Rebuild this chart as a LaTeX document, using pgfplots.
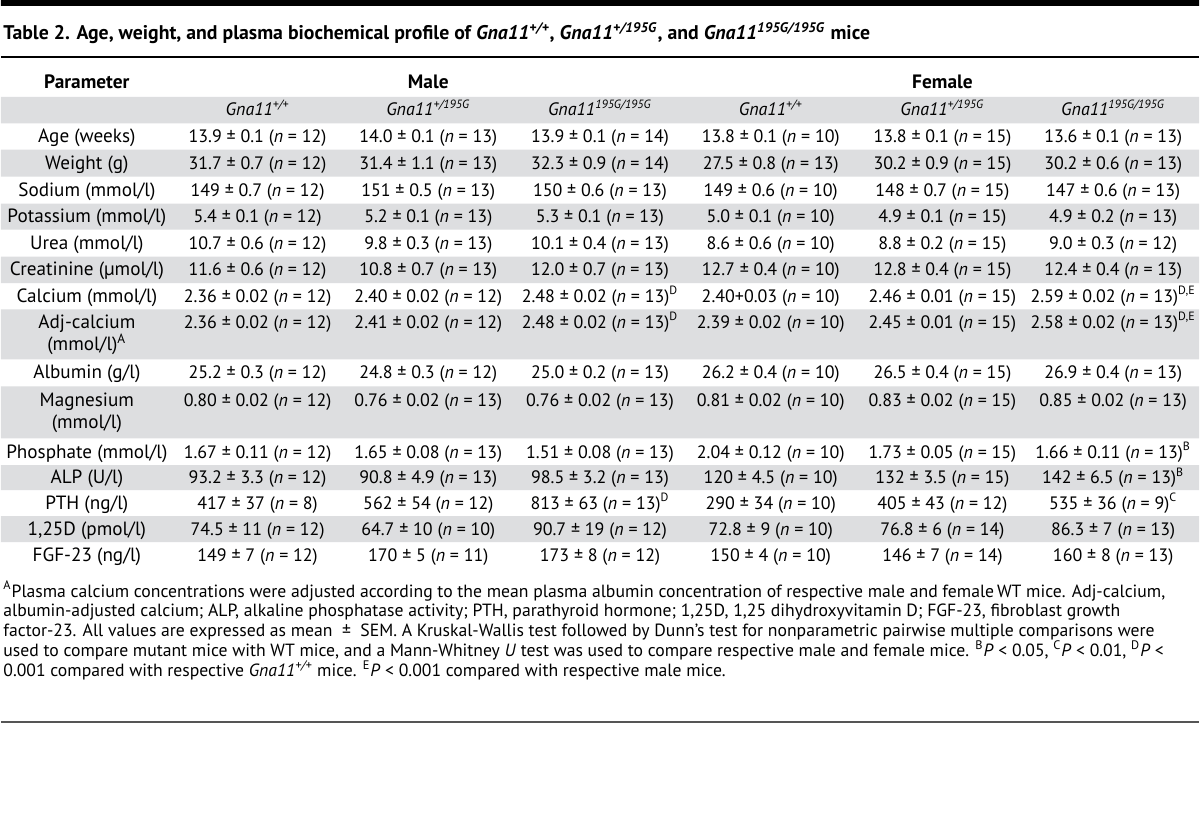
\documentclass[border=0pt]{standalone}
\usepackage{fontspec}
\setmainfont{PT Sans}
\usepackage{pgfplots}
\pgfplotsset{compat=1.18}
\definecolor{band}{HTML}{DDDEE0}
\definecolor{rule}{HTML}{555555}
\newcommand\N[1]{(\textit{n} = #1)}
\newcommand\G[1]{\textit{Gna11}\textsuperscript{\textit{#1}}}
\newcommand\R[8]{%
  \node[L] at (axis cs:86,#1) {#2};
  \node[T] at (axis cs:257,#1) {#3};
  \node[T] at (axis cs:428,#1) {#4};
  \node[T] at (axis cs:600,#1) {#5};
  \node[T] at (axis cs:771,#1) {#6};
  \node[T] at (axis cs:943,#1) {#7};
  \node[T] at (axis cs:1114,#1) {#8};
}
\begin{document}
\begin{tikzpicture}[
  T/.style={anchor=base, yshift=-3pt, inner sep=0pt, font=\fontsize{9}{10}\selectfont},
  L/.style={anchor=base, yshift=-3pt, inner sep=0pt, font=\fontsize{9.6}{10}\selectfont},
  H/.style={anchor=base, yshift=-3pt, inner sep=0pt, font=\fontsize{9.7}{10}\selectfont\bfseries},
  F/.style={anchor=base west, yshift=-3pt, inner sep=0pt, font=\fontsize{8.85}{10}\selectfont},
]
\begin{axis}[width=600pt, height=416.5pt, scale only axis,
  xmin=0, xmax=1200, ymin=0, ymax=833, y dir=reverse,
  hide axis, clip=false]
\addplot[fill=white, draw=none] coordinates {(0,0) (1200,0) (1200,833) (0,833) (0,0)};
\addplot[fill=black, draw=none] coordinates {(0,0) (1200,0) (1200,6) (0,6) (0,0)};
% grey bands
\addplot[fill=band, draw=none] coordinates {(0,97) (1200,97) (1200,123.5) (0,123.5) (0,97)};
\addplot[fill=band, draw=none] coordinates {(0,150) (1200,150) (1200,177) (0,177) (0,150)};
\addplot[fill=band, draw=none] coordinates {(0,204) (1200,204) (1200,230) (0,230) (0,204)};
\addplot[fill=band, draw=none] coordinates {(0,257) (1200,257) (1200,283.5) (0,283.5) (0,257)};
\addplot[fill=band, draw=none] coordinates {(0,310) (1200,310) (1200,360) (0,360) (0,310)};
\addplot[fill=band, draw=none] coordinates {(0,387) (1200,387) (1200,439) (0,439) (0,387)};
\addplot[fill=band, draw=none] coordinates {(0,466) (1200,466) (1200,491) (0,491) (0,466)};
\addplot[fill=band, draw=none] coordinates {(0,517) (1200,517) (1200,543) (0,543) (0,517)};
% rules
\addplot[black, line width=0.75pt] coordinates {(0,57) (1200,57)};
\addplot[rule, line width=1pt] coordinates {(0,723) (1200,723)};
% title
\node[anchor=base west, yshift=-3.3pt, inner sep=0pt, font=\fontsize{9.9}{12}\selectfont\bfseries] at (axis cs:2,33)
  {Table 2. Age, weight, and plasma biochemical profile of \G{+/+}, \G{+/195G}, and \G{195G/195G} mice};
% header
\node[H] at (axis cs:86,83) {Parameter};
\node[H] at (axis cs:428,83) {Male};
\node[H] at (axis cs:943,83) {Female};
\R{110}{}{\G{+/+}}{\G{+/195G}}{\G{195G/195G}}{\G{+/+}}{\G{+/195G}}{\G{195G/195G}}
% data rows
\R{137}{Age (weeks)}{13.9 ± 0.1 \N{12}}{14.0 ± 0.1 \N{13}}{13.9 ± 0.1 \N{14}}{13.8 ± 0.1 \N{10}}{13.8 ± 0.1 \N{15}}{13.6 ± 0.1 \N{13}}
\R{163.5}{Weight (g)}{31.7 ± 0.7 \N{12}}{31.4 ± 1.1 \N{13}}{32.3 ± 0.9 \N{14}}{27.5 ± 0.8 \N{13}}{30.2 ± 0.9 \N{15}}{30.2 ± 0.6 \N{13}}
\R{190.5}{Sodium (mmol/l)}{149 ± 0.7 \N{12}}{151 ± 0.5 \N{13}}{150 ± 0.6 \N{13}}{149 ± 0.6 \N{10}}{148 ± 0.7 \N{15}}{147 ± 0.6 \N{13}}
\R{217}{Potassium (mmol/l)}{5.4 ± 0.1 \N{12}}{5.2 ± 0.1 \N{13}}{5.3 ± 0.1 \N{13}}{5.0 ± 0.1 \N{10}}{4.9 ± 0.1 \N{15}}{4.9 ± 0.2 \N{13}}
\R{243.5}{Urea (mmol/l)}{10.7 ± 0.6 \N{12}}{9.8 ± 0.3 \N{13}}{10.1 ± 0.4 \N{13}}{8.6 ± 0.6 \N{10}}{8.8 ± 0.2 \N{15}}{9.0 ± 0.3 \N{12}}
\R{270}{Creatinine (µmol/l)}{11.6 ± 0.6 \N{12}}{10.8 ± 0.7 \N{13}}{12.0 ± 0.7 \N{13}}{12.7 ± 0.4 \N{10}}{12.8 ± 0.4 \N{15}}{12.4 ± 0.4 \N{13}}
\R{297}{Calcium (mmol/l)}{2.36 ± 0.02 \N{12}}{2.40 ± 0.02 \N{12}}{2.48 ± 0.02 \N{13}\textsuperscript{D}}{2.40+0.03 \N{10}}{2.46 ± 0.01 \N{15}}{2.59 ± 0.02 \N{13}\textsuperscript{D,E}}
\R{323}{Adj-calcium}{2.36 ± 0.02 \N{12}}{2.41 ± 0.02 \N{12}}{2.48 ± 0.02 \N{13}\textsuperscript{D}}{2.39 ± 0.02 \N{10}}{2.45 ± 0.01 \N{15}}{2.58 ± 0.02 \N{13}\textsuperscript{D,E}}
\node[L] at (axis cs:86,345) {(mmol/l)\textsuperscript{A}};
\R{373.5}{Albumin (g/l)}{25.2 ± 0.3 \N{12}}{24.8 ± 0.3 \N{12}}{25.0 ± 0.2 \N{13}}{26.2 ± 0.4 \N{10}}{26.5 ± 0.4 \N{15}}{26.9 ± 0.4 \N{13}}
\R{401}{Magnesium}{0.80 ± 0.02 \N{12}}{0.76 ± 0.02 \N{13}}{0.76 ± 0.02 \N{13}}{0.81 ± 0.02 \N{10}}{0.83 ± 0.02 \N{15}}{0.85 ± 0.02 \N{13}}
\node[L] at (axis cs:86,423) {(mmol/l)};
\R{453}{Phosphate (mmol/l)}{1.67 ± 0.11 \N{12}}{1.65 ± 0.08 \N{13}}{1.51 ± 0.08 \N{13}}{2.04 ± 0.12 \N{10}}{1.73 ± 0.05 \N{15}}{1.66 ± 0.11 \N{13}\textsuperscript{B}}
\R{478.5}{ALP (U/l)}{93.2 ± 3.3 \N{12}}{90.8 ± 4.9 \N{13}}{98.5 ± 3.2 \N{13}}{120 ± 4.5 \N{10}}{132 ± 3.5 \N{15}}{142 ± 6.5 \N{13}\textsuperscript{B}}
\R{504}{PTH (ng/l)}{417 ± 37 \N{8}}{562 ± 54 \N{12}}{813 ± 63 \N{13}\textsuperscript{D}}{290 ± 34 \N{10}}{405 ± 43 \N{12}}{535 ± 36 \N{9}\textsuperscript{C}}
\R{530}{1,25D (pmol/l)}{74.5 ± 11 \N{12}}{64.7 ± 10 \N{10}}{90.7 ± 19 \N{12}}{72.8 ± 9 \N{10}}{76.8 ± 6 \N{14}}{86.3 ± 7 \N{13}}
\R{556}{FGF-23 (ng/l)}{149 ± 7 \N{12}}{170 ± 5 \N{11}}{173 ± 8 \N{12}}{150 ± 4 \N{10}}{146 ± 7 \N{14}}{160 ± 8 \N{13}}
% footnotes
\node[F] at (axis cs:2,592) {\textsuperscript{A}Plasma calcium concentrations were adjusted according to the mean plasma albumin concentration of respective male and female\,WT mice. Adj-calcium,};
\node[F] at (axis cs:2,612) {albumin-adjusted calcium; ALP, alkaline phosphatase activity; PTH, parathyroid hormone; 1,25D, 1,25 dihydroxyvitamin D; FGF-23, fibroblast growth};
\node[F] at (axis cs:2,632) {factor-23. All values are expressed as mean \ ± \ SEM. A Kruskal-Wallis test followed by Dunn’s test for nonparametric pairwise multiple comparisons were};
\node[F] at (axis cs:2,652) {used to compare mutant mice with WT mice, and a Mann-Whitney \textit{U} test was used to compare respective male and female mice. \textsuperscript{B}\textit{P} < 0.05, \textsuperscript{C}\textit{P} < 0.01, \textsuperscript{D}\textit{P} <};
\node[F] at (axis cs:2,672) {0.001 compared with respective \G{+/+} mice. \textsuperscript{E}\textit{P} < 0.001 compared with respective male mice.};
\end{axis}
\end{tikzpicture}
\end{document}
